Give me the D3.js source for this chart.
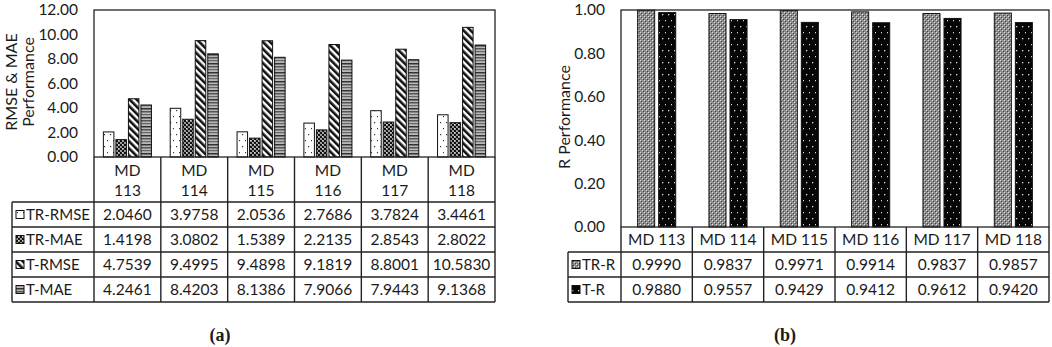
<!DOCTYPE html>
<html>
<head>
<meta charset="utf-8">
<script src="https://cdn.jsdelivr.net/npm/d3@7"></script>
<style>
  body { margin: 0; background: #fff; }
  svg { display: block; }
  text { font-family: Lato, "Open Sans", sans-serif; fill: #1a1a1a; }
</style>
</head>
<body>
<div id="chart"></div>
<script>
// data
var categories = ["MD 113", "MD 114", "MD 115", "MD 116", "MD 117", "MD 118"];
var seriesA = ["TR-RMSE", "TR-MAE", "T-RMSE", "T-MAE"];
var trRmse = [2.0460, 3.9758, 2.0536, 2.7686, 3.7824, 3.4461];
var trMae = [1.4198, 3.0802, 1.5389, 2.2135, 2.8543, 2.8022];
var tRmse = [4.7539, 9.4995, 9.4898, 9.1819, 8.8001, 10.5830];
var tMae = [4.2461, 8.4203, 8.1386, 7.9066, 7.9443, 9.1368];
var seriesB = ["TR-R", "T-R"];
var trR = [0.9990, 0.9837, 0.9971, 0.9914, 0.9837, 0.9857];
var tR = [0.9880, 0.9557, 0.9429, 0.9412, 0.9612, 0.9420];
var ticksA = [0, 2, 4, 6, 8, 10, 12];
var ticksB = [0, 0.2, 0.4, 0.6, 0.8, 1.0];

var valuesA = [trRmse, trMae, tRmse, tMae];
var valuesB = [trR, tR];

var W = 1052, H = 347;
var svg = d3.select("#chart").append("svg")
    .attr("width", W)
    .attr("height", H);

// patterns
var defs = svg.append("defs");

function pattern(id, w, h) {
    return defs.append("pattern")
        .attr("id", id)
        .attr("patternUnits", "userSpaceOnUse")
        .attr("width", w)
        .attr("height", h);
}

// sparse dots on white
var p1 = pattern("pDots", 6, 12);
p1.append("rect").attr("width", 6).attr("height", 12).attr("fill", "#fff");
p1.append("rect").attr("x", 2).attr("y", 2).attr("width", 1.2).attr("height", 1.2).attr("fill", "#333");
p1.append("rect").attr("x", 5).attr("y", 8).attr("width", 1.2).attr("height", 1.2).attr("fill", "#333");

// dark checker
var p2 = pattern("pCheck", 4, 4);
p2.append("rect").attr("width", 4).attr("height", 4).attr("fill", "#9a9a9a");
p2.append("rect").attr("width", 2).attr("height", 2).attr("fill", "#111");
p2.append("rect").attr("x", 2).attr("y", 2).attr("width", 2).attr("height", 2).attr("fill", "#111");
p2.append("rect").attr("x", 2).attr("y", 0).attr("width", 1).attr("height", 1).attr("fill", "#ddd");

// downward diagonal stripes
var p3 = pattern("pDiag", 5, 5).attr("patternTransform", "rotate(-45)");
p3.append("rect").attr("width", 5).attr("height", 5).attr("fill", "#fff");
p3.append("rect").attr("width", 2.6).attr("height", 5).attr("fill", "#111");

// horizontal grey stripes
var p4 = pattern("pHoriz", 4, 9);
p4.append("rect").attr("width", 4).attr("height", 9).attr("fill", "#b8b8b8");
p4.append("rect").attr("y", 0).attr("width", 4).attr("height", 1.5).attr("fill", "#333");
p4.append("rect").attr("y", 3).attr("width", 4).attr("height", 1.5).attr("fill", "#555");
p4.append("rect").attr("y", 6).attr("width", 4).attr("height", 1.2).attr("fill", "#666");

// grey checker with light dots
var p5 = pattern("pGrey", 4, 4);
p5.append("rect").attr("width", 4).attr("height", 4).attr("fill", "#8c8c8c");
p5.append("rect").attr("width", 1).attr("height", 1).attr("fill", "#e0e0e0");
p5.append("rect").attr("x", 2).attr("y", 2).attr("width", 1).attr("height", 1).attr("fill", "#e0e0e0");
p5.append("rect").attr("x", 1).attr("y", 1).attr("width", 1).attr("height", 1).attr("fill", "#444");
p5.append("rect").attr("x", 3).attr("y", 3).attr("width", 1).attr("height", 1).attr("fill", "#444");

// black with white dots
var p6 = pattern("pBlack", 6, 12);
p6.append("rect").attr("width", 6).attr("height", 12).attr("fill", "#050505");
p6.append("rect").attr("x", 2).attr("y", 2).attr("width", 1.3).attr("height", 1.3).attr("fill", "#ddd");
p6.append("rect").attr("x", 5).attr("y", 8).attr("width", 1.3).attr("height", 1.3).attr("fill", "#ddd");

var fillsA = ["url(#pDots)", "url(#pCheck)", "url(#pDiag)", "url(#pHoriz)"];
var fillsB = ["url(#pGrey)", "url(#pBlack)"];

var fmt = d3.format(".4f");
var fs = "15.5px";

function drawPanel(cfg) {
    var g = svg.append("g");
    var x = d3.scaleBand().domain(categories).range([cfg.left, cfg.right]);
    var x1 = d3.scaleBand().domain(cfg.series)
        .range([0, x.bandwidth()])
        .paddingInner(cfg.pIn).paddingOuter(cfg.pOut);
    var y = d3.scaleLinear().domain(cfg.domain).range([cfg.base, cfg.top]);

    // y axis labels
    var ax = g.append("g")
        .attr("transform", "translate(" + cfg.left + ",0)")
        .call(d3.axisLeft(y).tickValues(cfg.ticks).tickSize(0).tickPadding(16).tickFormat(d3.format(".2f")));
    ax.select(".domain").remove();
    ax.selectAll("text")
        .style("font-family", "Lato, sans-serif")
        .style("font-size", "15.5px")
        .attr("dy", "0.32em")
        .attr("fill", "#1a1a1a");

    // axis title
    var t = g.append("text")
        .attr("transform", "translate(" + cfg.titleX + "," + cfg.titleY + ") rotate(-90)")
        .attr("text-anchor", "middle")
        .style("font-size", "16px");
    cfg.title.forEach(function (line, i) {
        t.append("tspan")
            .attr("x", 0)
            .attr("dy", i === 0 ? 0 : 16.5)
            .text(line);
    });

    // bars
    cfg.series.forEach(function (s, si) {
        g.append("g").selectAll("rect")
            .data(cfg.values[si])
            .enter().append("rect")
            .attr("x", function (d, i) { return x(categories[i]) + x1(s); })
            .attr("y", function (d) { return y(d); })
            .attr("width", x1.bandwidth())
            .attr("height", function (d) { return cfg.base - y(d); })
            .attr("fill", cfg.fills[si])
            .attr("stroke", "#111")
            .attr("stroke-width", 1);
    });

    // plot frame
    g.append("rect")
        .attr("x", cfg.left).attr("y", cfg.top)
        .attr("width", cfg.right - cfg.left).attr("height", cfg.base - cfg.top)
        .attr("fill", "none").attr("stroke", "#222").attr("stroke-width", 1.3);

    // table
    var rowH = 25;
    var headBottom = cfg.base + cfg.headH;
    var tableBottom = headBottom + rowH * cfg.series.length;
    var lines = g.append("g").attr("stroke", "#222").attr("stroke-width", 1.4);

    // header row
    categories.forEach(function (c, i) {
        var cx = x(c) + x.bandwidth() / 2;
        if (cfg.headLines === 2) {
            var parts = c.split(" ");
            g.append("text").attr("x", cx).attr("y", cfg.base + 19)
                .attr("text-anchor", "middle").style("font-size", fs).text(parts[0]);
            g.append("text").attr("x", cx).attr("y", cfg.base + 39)
                .attr("text-anchor", "middle").style("font-size", fs).text(parts[1]);
        } else {
            g.append("text").attr("x", cx).attr("y", cfg.base + cfg.headH / 2 + 5)
                .attr("text-anchor", "middle").style("font-size", fs).text(c);
        }
    });

    // body rows
    cfg.series.forEach(function (s, si) {
        var ry = headBottom + rowH * si;
        g.append("rect")
            .attr("x", cfg.legLeft + 4).attr("y", ry + rowH / 2 - 4)
            .attr("width", 8).attr("height", 8)
            .attr("fill", cfg.fills[si]).attr("stroke", "#111").attr("stroke-width", 1);
        g.append("text").attr("x", cfg.legLeft + 14).attr("y", ry + rowH / 2 + 5)
            .style("font-size", "15px").text(s);
        cfg.values[si].forEach(function (v, i) {
            g.append("text")
                .attr("x", x(categories[i]) + x.bandwidth() / 2)
                .attr("y", ry + rowH / 2 + 5)
                .attr("text-anchor", "middle").style("font-size", fs)
                .text(fmt(v));
        });
        lines.append("line")
            .attr("x1", cfg.legLeft).attr("x2", cfg.right)
            .attr("y1", ry + rowH).attr("y2", ry + rowH);
    });
    lines.append("line")
        .attr("x1", cfg.legLeft).attr("x2", cfg.right)
        .attr("y1", headBottom).attr("y2", headBottom);
    lines.append("line")
        .attr("x1", cfg.legLeft).attr("x2", cfg.legLeft)
        .attr("y1", headBottom).attr("y2", tableBottom);
    categories.concat([null]).forEach(function (c) {
        var xx = c === null ? cfg.right : x(c);
        lines.append("line")
            .attr("x1", xx).attr("x2", xx)
            .attr("y1", cfg.base).attr("y2", tableBottom);
    });

    // caption
    svg.append("text")
        .attr("x", cfg.capX).attr("y", 341)
        .attr("text-anchor", "middle")
        .style("font-family", "'Liberation Serif', 'Times New Roman', serif")
        .style("font-weight", "bold")
        .style("font-size", "18px")
        .attr("fill", "#000")
        .text(cfg.caption);
}

drawPanel({
    left: 94, right: 495, top: 10, base: 157, headH: 45, headLines: 2,
    legLeft: 12, domain: [0, 12], ticks: ticksA,
    series: seriesA, values: valuesA, fills: fillsA,
    pIn: 0.16, pOut: 0.75,
    title: ["RMSE & MAE", "Performance"], titleX: 17, titleY: 82,
    caption: "(a)", capX: 220
});

drawPanel({
    left: 621, right: 1049, top: 10, base: 227, headH: 25, headLines: 1,
    legLeft: 568, domain: [0, 1], ticks: ticksB,
    series: seriesB, values: valuesB, fills: fillsB,
    pIn: 0.19, pOut: 0.79,
    title: ["R Performance"], titleX: 570, titleY: 117,
    caption: "(b)", capX: 785
});
</script>
</body>
</html>
